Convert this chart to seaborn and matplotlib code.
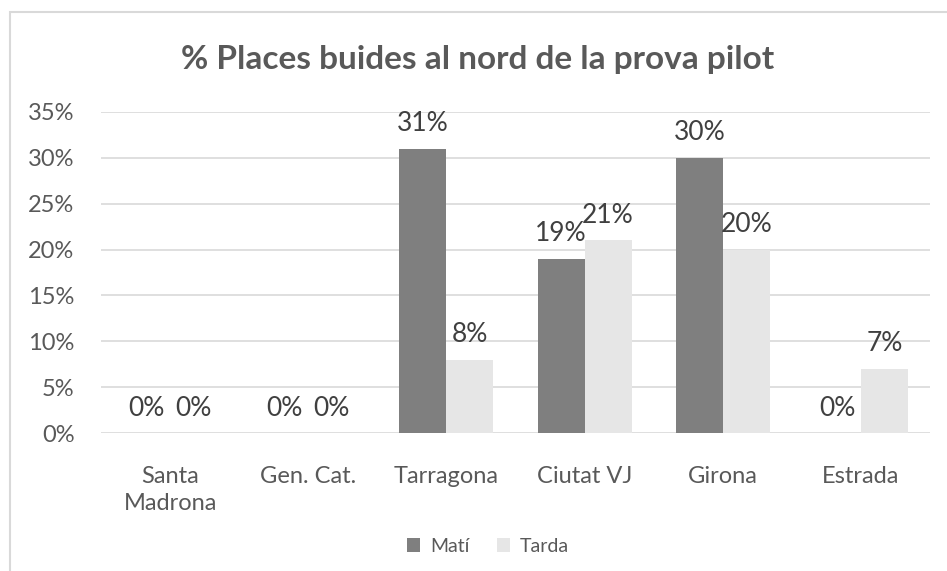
import matplotlib
matplotlib.use('Agg')
import matplotlib.pyplot as plt
import pandas as pd
import seaborn as sns
from matplotlib.patches import Rectangle
from matplotlib.ticker import PercentFormatter

# Data
categories = ['Santa\nMadrona', 'Gen. Cat.', 'Tarragona', 'Ciutat VJ', 'Girona', 'Estrada']
mati = [0, 0, 31, 19, 30, 0]
tarda = [0, 0, 8, 21, 20, 7]
series = ['Matí', 'Tarda']

df = pd.DataFrame({
    'cat': categories * 2,
    'serie': [series[0]] * len(categories) + [series[1]] * len(categories),
    'value': mati + tarda,
})

sns.set_style('white')
plt.rcParams['font.family'] = ['Lato', 'DejaVu Sans']

fig = plt.figure(figsize=(9.47, 5.71), dpi=100)
ax = fig.add_axes([101 / 947, 1 - 433 / 571, 829 / 947, 321 / 571])

sns.barplot(data=df, x='cat', y='value', hue='serie',
            palette=['#7f7f7f', '#e6e6e6'], width=0.68,
            saturation=1, linewidth=0, ax=ax, legend=True)

ax.set_ylim(0, 35)
ax.set_yticks(range(0, 36, 5))
ax.yaxis.set_major_formatter(PercentFormatter(decimals=0))
ax.grid(axis='y', color='#d9d9d9', linewidth=1.2)
ax.set_axisbelow(True)
for s in ax.spines.values():
    s.set_visible(False)
ax.tick_params(axis='both', length=0, labelsize=17, colors='#595959')
ax.tick_params(axis='y', pad=19)
ax.tick_params(axis='x', pad=24)
for lbl in ax.get_xticklabels():
    lbl.set_linespacing(1.35)
ax.set_xlabel('')
ax.set_ylabel('')

# data labels
for cont in ax.containers:
    ax.bar_label(cont, labels=[f'{v:.0f}%' for v in cont.datavalues],
                 padding=9, fontsize=19, color='#404040')

# title centred on the chart area, not on the plot area
fig.text(478 / 947, 1 - 60 / 571, '% Places buides al nord de la prova pilot',
         fontsize=24, fontweight='bold', color='#595959',
         ha='center', va='center')

ax.legend(loc='center', bbox_to_anchor=(488 / 947, 1 - 546 / 571),
          bbox_transform=fig.transFigure, ncol=2,
          frameon=False, fontsize=14, handlelength=0.7, handleheight=0.7,
          columnspacing=1.4, handletextpad=0.5, labelcolor='#595959')

# chart area border (partially cropped in the original)
fig.patches.append(Rectangle((10 / 947, -0.1), 1.2, 1 - 12 / 571 + 0.1,
                             transform=fig.transFigure, fill=False,
                             edgecolor='#d9d9d9', linewidth=1.5))

fig.savefig('out.png', dpi=100)
